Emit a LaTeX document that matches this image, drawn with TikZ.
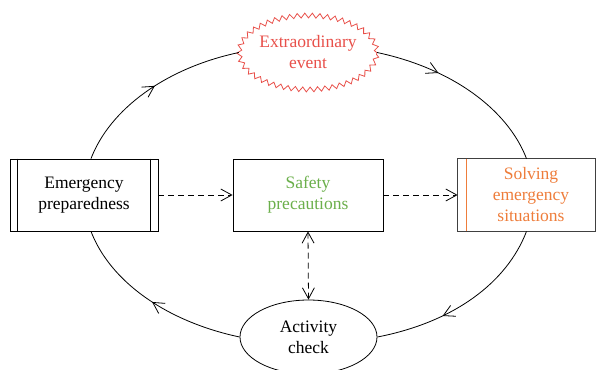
\documentclass[tikz,border=0pt]{standalone}
\usepackage{fontspec}
\setmainfont{Liberation Serif}
\usetikzlibrary{arrows.meta,decorations.pathmorphing,decorations.markings,shapes.geometric}
\definecolor{evred}{HTML}{E8504A}
\definecolor{safegreen}{HTML}{6BAF4B}
\definecolor{solveorange}{HTML}{EE7D3B}
\begin{document}
\begin{tikzpicture}[x=1pt,y=1pt,line width=0.8pt,
  font=\fontsize{17.5}{21}\selectfont,
  tipx/.tip={Straight Barb[length=11pt,width=12pt]},
  plainbox/.style={draw,rectangle,minimum height=72,align=center,inner sep=0},
  midarrow/.style={postaction={decorate},decoration={markings,mark=at position #1 with {\arrow{tipx}}}},
  dasharr/.style={dash pattern=on 6pt off 4pt,-tipx},
]
\useasboundingbox (0,0) rectangle (598,-370);
% nodes
\node[plainbox,minimum width=148] (L) at (84,-195) {Emergency\\preparedness};
\draw ([xshift=8]L.north west) -- ([xshift=8]L.south west);
\draw ([xshift=-8]L.north east) -- ([xshift=-8]L.south east);
\node[plainbox,minimum width=150,text=safegreen] (M) at (308,-195) {Safety\\precautions};
\node[rectangle,minimum width=128,minimum height=72,align=center,inner sep=0,text=solveorange] (R) at (531,-195) {Solving\\emergency\\situations};
\draw[black!75] ([xshift=-9]R.north west) rectangle (R.south east);
\draw[solveorange] (R.north west) -- (R.south west);
\node[ellipse,draw=evred,text=evred,decorate,decoration={zigzag,segment length=7.5pt,amplitude=2.4pt},minimum width=135,minimum height=74,inner sep=0,align=center] (E) at (308,-52.5) {Extraordinary\\event};
\node[ellipse,draw,minimum width=137,minimum height=74,inner sep=0,align=center] (A) at (308.5,-337) {Activity\\check};
% cycle connectors
\draw[midarrow=0.52] ([xshift=7]L.north) to[out=69,in=192,out distance=53,in distance=75] (E.west);
\draw[midarrow=0.34] (E.east) to[out=-12,in=111,out distance=76,in distance=53] ([xshift=-4.5]R.north);
\draw[midarrow=0.64] ([xshift=-4.5]R.south) to[out=249,in=11,out distance=55,in distance=78] (A.east);
\draw[midarrow=0.5] (A.west) to[out=168,in=-69,out distance=76,in distance=53] ([xshift=7]L.south);
% dashed connectors
\draw[dasharr] (L.east) -- (M.west);
\draw[dasharr] (M.east) -- ([xshift=-9]R.west);
\draw[dasharr,tipx-tipx] (M.south) -- (A.north);
\end{tikzpicture}
\end{document}
